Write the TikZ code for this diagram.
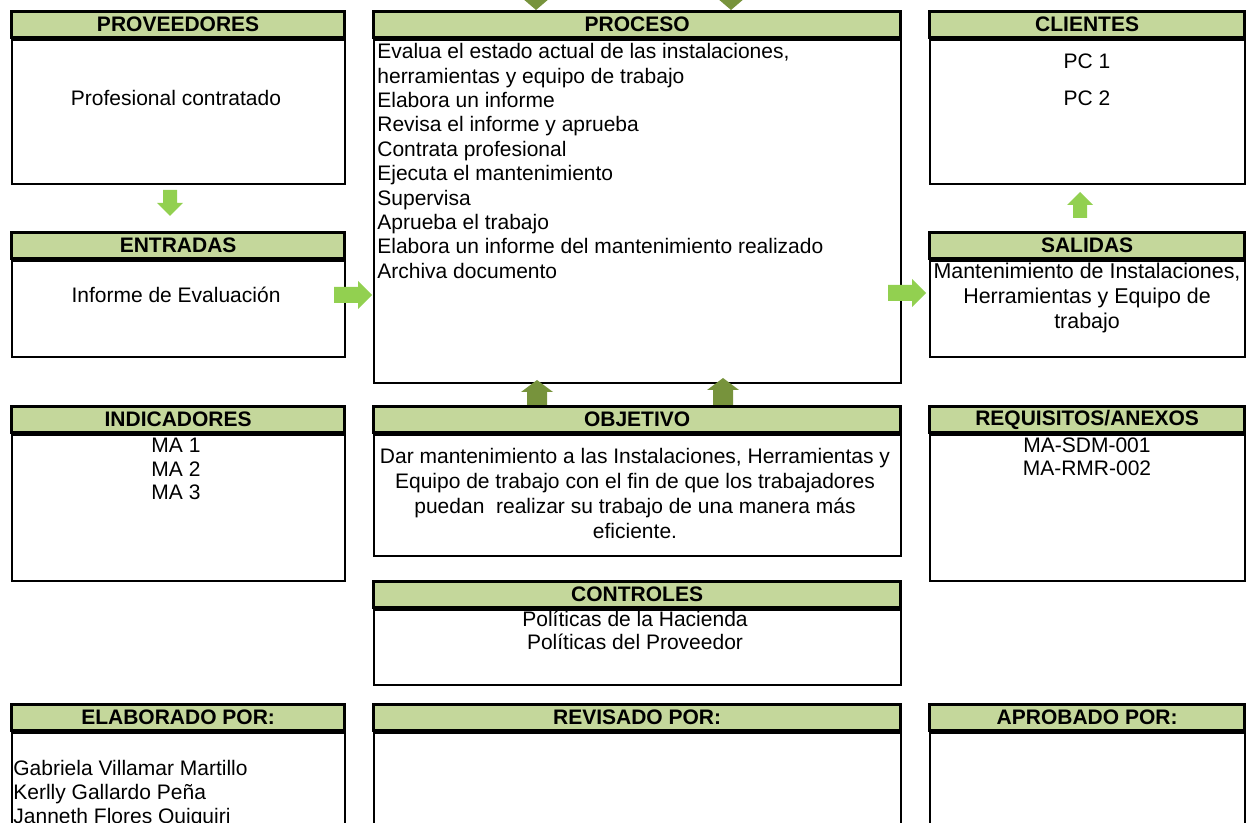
\documentclass[tikz,border=0pt]{standalone}
\usepackage{fontspec}
\setmainfont{Liberation Sans}
\usetikzlibrary{positioning}
\definecolor{hdrgreen}{HTML}{C4D79B}
\definecolor{arrlight}{HTML}{92D050}
\definecolor{arrdark}{HTML}{77933C}
\tikzset{pics/blk/.style n args={4}{code={
  \fill (0,-#2) -- (#1-#4,-#2) -- (#1-#4,-#3) -- (#1,0) -- (#1-#4,#3) -- (#1-#4,#2) -- (0,#2) -- cycle;}}}

\begin{document}
\begin{tikzpicture}[x=0.5pt,y=-0.5pt,
    hdr/.style={draw,line width=1.6pt,fill=hdrgreen,inner sep=0pt,anchor=north west,minimum height=13pt,font=\fontsize{10.5}{12}\selectfont\bfseries},
    bx/.style={draw,line width=1pt,inner sep=0pt,below=0pt of #1},
    txt/.style={inner sep=0pt,align=center,font=\fontsize{10.5}{12}\selectfont},
    colL/.style={minimum width=166.5pt},colM/.style={minimum width=263.5pt},colR/.style={minimum width=157.5pt}]
  \useasboundingbox (0,0) rectangle (1247,823);
  \clip (0,0) rectangle (1247,823);
  % headers
  \node[hdr,colL] (provH) at (10,10) {PROVEEDORES};
  \node[hdr,colM] (procH) at (372,10) {PROCESO};
  \node[hdr,colR] (cliH) at (928,10) {CLIENTES};
  \node[hdr,colL] (entH) at (10,231) {ENTRADAS};
  \node[hdr,colR] (salH) at (928,231) {SALIDAS};
  \node[hdr,colL] (indH) at (10,405) {INDICADORES};
  \node[hdr,colM] (objH) at (372,405) {OBJETIVO};
  \node[hdr,colR] (reqH) at (928,405) {REQUISITOS/ANEXOS};
  \node[hdr,colM] (ctrlH) at (372,580) {CONTROLES};
  \node[hdr,colL] (elabH) at (10,703) {ELABORADO POR:};
  \node[hdr,colM] (revH) at (372,703) {REVISADO POR:};
  \node[hdr,colR] (aprH) at (928,703) {APROBADO POR:};
  % bodies
  \node[bx=provH,colL,minimum height=72pt] (provB) {};
  \node[bx=procH,colM,minimum height=171.5pt] (procB) {};
  \node[bx=cliH,colR,minimum height=72pt] (cliB) {};
  \node[bx=entH,colL,minimum height=48pt] (entB) {};
  \node[bx=salH,colR,minimum height=48pt] (salB) {};
  \node[bx=indH,colL,minimum height=73pt] (indB) {};
  \node[bx=objH,colM,minimum height=60.5pt] (objB) {};
  \node[bx=reqH,colR,minimum height=73pt] (reqB) {};
  \node[bx=ctrlH,colM,minimum height=37.5pt] (ctrlB) {};
  \node[bx=elabH,colL,minimum height=60pt] (elabB) {};
  \node[bx=revH,colM,minimum height=60pt] (revB) {};
  \node[bx=aprH,colR,minimum height=60pt] (aprB) {};
  % texts
  \node[txt] (provT) at (176,98) {Profesional contratado};
  \node[txt] (cli1) at (1087,61) {PC 1};
  \node[txt] (cli2) at (1087,98) {PC 2};
  \node[txt,align=left,anchor=north west,font=\fontsize{10.5}{12.2}\selectfont] (procT) at (377,43)
    {Evalua el estado actual de las instalaciones,\\herramientas y equipo de trabajo\\Elabora un informe\\
     Revisa el informe y aprueba\\Contrata profesional\\Ejecuta el mantenimiento\\Supervisa\\
     Aprueba el trabajo\\Elabora un informe del mantenimiento realizado\\Archiva documento};
  \node[txt] (entT) at (176,295) {Informe de Evaluación};
  \node[txt,font=\fontsize{10.7}{12.5}\selectfont] (salT) at (1087,298)
    {Mantenimiento de Instalaciones,\\Herramientas y Equipo de\\trabajo};
  \node[txt,font=\fontsize{10.5}{11.7}\selectfont] (indT) at (176,469) {MA 1\\MA 2\\MA 3};
  \node[txt,font=\fontsize{10.5}{12.5}\selectfont] (objT) at (635,493)
    {Dar mantenimiento a las Instalaciones, Herramientas y\\Equipo de trabajo con el fin de que los trabajadores\\
     puedan\ \ realizar su trabajo de una manera más\\eficiente.};
  \node[txt,font=\fontsize{10.5}{11.7}\selectfont] (reqT) at (1087,457) {MA-SDM-001\\MA-RMR-002};
  \node[txt,font=\fontsize{10.5}{11.5}\selectfont] (ctrlT) at (635,630) {Políticas de la Hacienda\\Políticas del Proveedor};
  \node[txt,align=left,anchor=west,font=\fontsize{10.5}{11.8}\selectfont] (elabT) at (13,794)
    {Gabriela Villamar Martillo\\Kerlly Gallardo Peña\\Janneth Flores Quiquiri};
  % block arrows
  \pic[color=arrlight,rotate=-90] at (170,190) {blk={26}{7}{13}{13}};
  \pic[color=arrlight] at (334,295) {blk={38}{8}{14}{14}};
  \pic[color=arrlight] at (888,293) {blk={38}{8}{14}{14}};
  \pic[color=arrlight,rotate=90] at (1080,218) {blk={26}{7}{13}{13}};
  \pic[color=arrdark,rotate=90] at (537,405) {blk={25}{10}{16}{12}};
  \pic[color=arrdark,rotate=90] at (723,405) {blk={27}{10}{16}{12}};
  \pic[color=arrdark,rotate=-90] at (536,-20) {blk={30}{10}{14}{12}};
  \pic[color=arrdark,rotate=-90] at (731,-20) {blk={30}{10}{14}{12}};
\end{tikzpicture}
\end{document}
